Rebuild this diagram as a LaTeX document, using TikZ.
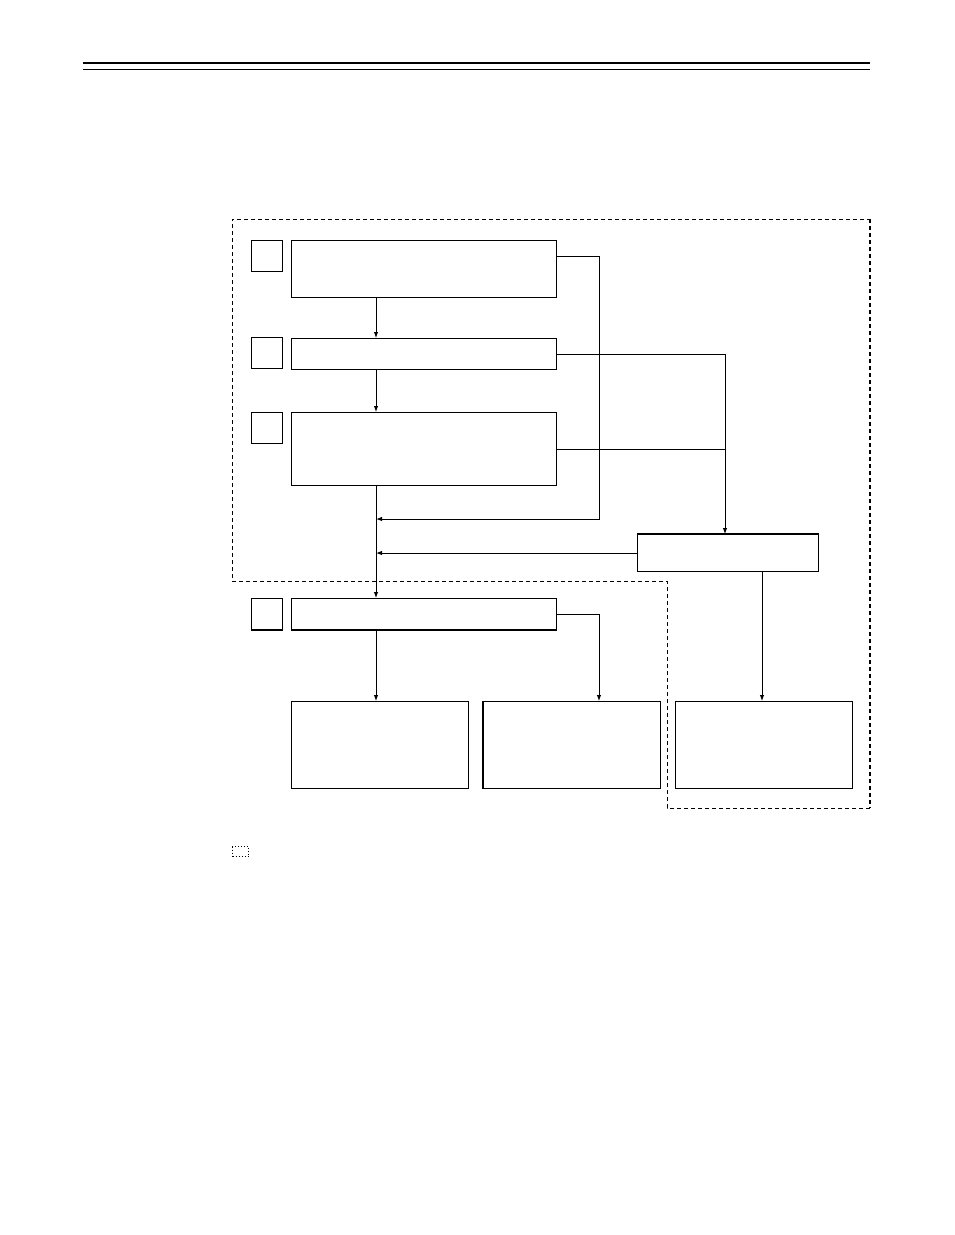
\documentclass[tikz,border=0pt]{standalone}
\usetikzlibrary{arrows.meta}
\begin{document}
\begin{tikzpicture}[x=1pt,y=-1pt,line width=1pt,
    box/.style={draw, rectangle, anchor=north west, inner sep=0pt},
    tag/.style={box, minimum width=31pt, minimum height=31pt},
    arr/.style={-{Latex[length=6pt,width=4.5pt]}},
    zone/.style={dash pattern=on 4pt off 3pt}]
\useasboundingbox (0,0) rectangle (954,1235);
% header rules
\draw[line width=2.2pt] (83,63) -- (870,63);
\draw (83,69) -- (870,69);
% dashed zone
\draw[zone] (870,808) -- (667,808) -- (667,581) -- (232,581) -- (232,219) -- (870,219);
\draw[zone, line width=1.6pt] (870,219) -- (870,808);
% step tags
\node[tag] (t1) at (251,240) {};
\node[tag] (t2) at (251,337) {};
\node[tag] (t3) at (251,412) {};
\node[tag] (t4) at (251,598) {};
% boxes
\node[box, minimum width=265pt, minimum height=57pt] (b1) at (291,240) {};
\node[box, minimum width=265pt, minimum height=31pt] (b2) at (291,338) {};
\node[box, minimum width=265pt, minimum height=73pt] (b3) at (291,412) {};
\node[box, minimum width=265pt, minimum height=31pt] (b4) at (291,598) {};
\node[box, minimum width=181pt, minimum height=37pt] (b5) at (637,534) {};
\node[box, minimum width=177pt, minimum height=87pt] (b6) at (291,701) {};
\node[box, minimum width=177pt, minimum height=87pt] (b7) at (483,701) {};
\node[box, minimum width=177pt, minimum height=87pt] (b8) at (675,701) {};
% heavier edges
\draw[line width=2pt] (b4.south west) -- (b4.south east);
\draw[line width=2pt] (t4.south west) -- (t4.south east);
\draw[line width=2pt] (b5.north west) -- (b5.north east);
\draw[line width=2pt] (b7.north west) -- (b7.south west);
% legend
\node[box, dotted, minimum width=16pt, minimum height=10pt] (key) at (232,846) {};
% connectors
\coordinate (trunk) at (376,0);
\coordinate (rail) at (599,0);
\coordinate (spine) at (725,0);
\coordinate (drop) at (762,0);
\coordinate (c1) at (599,256);
\coordinate (m1) at (376,519);
\draw[arr] (b1.south -| trunk) -- (b2.north -| trunk);
\draw[arr] (b2.south -| trunk) -- (b3.north -| trunk);
\draw[arr] (b3.south -| trunk) -- (b4.north -| trunk);
\draw[arr] (b1.east |- c1) -- (c1) |- (m1);
\draw[arr] (b2.east) -| (b5.north -| spine);
\draw (b3.east) -- (b3.east -| spine);
\draw[arr] (b5.west) -- (b5.west -| trunk);
\draw[arr] (b5.south -| drop) -- (b8.north -| drop);
\draw[arr] (b4.south -| trunk) -- (b6.north -| trunk);
\draw[arr] (b4.east) -| (b7.north -| rail);
\end{tikzpicture}
\end{document}
